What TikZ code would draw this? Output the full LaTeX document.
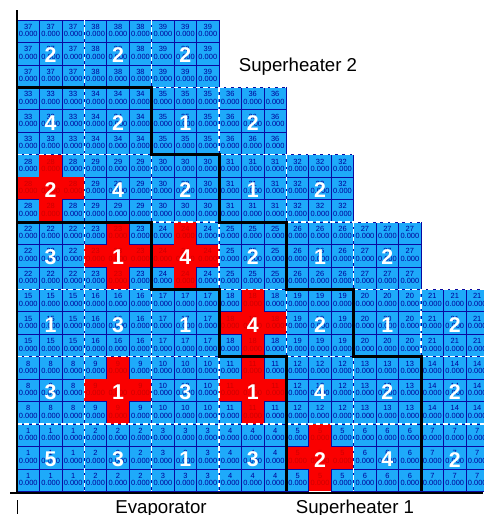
\documentclass[tikz,border=0pt]{standalone}
\usepackage{fontspec}
\setmainfont{Liberation Sans}
\definecolor{cellblue}{RGB}{30,170,250}
\definecolor{celledge}{RGB}{10,10,160}
\definecolor{celltext}{RGB}{0,0,150}
\definecolor{crossred}{RGB}{250,0,0}
\definecolor{crosstext}{RGB}{205,0,0}
\tikzset{
  bluecell/.style={fill=cellblue, draw=celledge, line width=0.6pt},
  redcell/.style={fill=crossred},
  smalltxt/.style={inner sep=0pt, font=\fontsize{5.6}{6}\selectfont},
  bignum/.style={inner sep=0pt, text=white, font=\fontsize{16}{17}\selectfont\bfseries},
  blockline/.style={white, line width=1.1pt, dash pattern=on 3.5pt off 2pt},
  zoneline/.style={black, line width=2.3pt},
  axisline/.style={black, line width=2.2pt},
  zonelabel/.style={inner sep=0pt, anchor=base, font=\fontsize{14}{15}\selectfont},
}
% row/col/tube/number/red cross
\def\blocklist{0/0/37/2/0, 0/1/38/2/0, 0/2/39/2/0,
  1/0/33/4/0, 1/1/34/2/0, 1/2/35/1/0, 1/3/36/2/0,
  2/0/28/2/1, 2/1/29/4/0, 2/2/30/2/0, 2/3/31/1/0, 2/4/32/2/0,
  3/0/22/3/0, 3/1/23/1/1, 3/2/24/4/1, 3/3/25/2/0, 3/4/26/1/0, 3/5/27/2/0,
  4/0/15/1/0, 4/1/16/3/0, 4/2/17/1/0, 4/3/18/4/1, 4/4/19/2/0, 4/5/20/1/0, 4/6/21/2/0,
  5/0/8/3/0, 5/1/9/1/1, 5/2/10/3/0, 5/3/11/1/1, 5/4/12/4/0, 5/5/13/2/0, 5/6/14/2/0,
  6/0/1/5/0, 6/1/2/3/0, 6/2/3/1/0, 6/3/4/3/0, 6/4/5/2/1, 6/5/6/4/0, 6/6/7/2/0}

\begin{document}
\begin{tikzpicture}[x=0.75pt, y=-0.75pt]
	\useasboundingbox (0,0) rectangle (483,515);
	\begin{scope}[shift={(17,20)}, x=16.8375pt, y=-16.8375pt]
		% Cells
		\foreach \r/\c/\n/\b/\x in \blocklist {
			\foreach \i in {0,1,2} {
				\foreach \j in {0,1,2} {
					\pgfmathtruncatemacro\isred{\x*((\i==1)||(\j==1))}
					\ifnum\isred=1 \def\cellstyle{redcell}\def\txtcolor{crosstext}%
					\else \def\cellstyle{bluecell}\def\txtcolor{celltext}\fi
					\path[\cellstyle] (3*\c+\i, 3*\r+\j) rectangle ++(1,1);
					\node[smalltxt, text=\txtcolor] (t\n-\i-\j) at (3*\c+\i+0.5, 3*\r+\j+0.3) {\n};
					\node[smalltxt, text=\txtcolor] (v\n-\i-\j) at (3*\c+\i+0.5, 3*\r+\j+0.63) {0.000};
				}
			}
		}
		% Block borders and numbers
		\foreach \r/\c/\n/\b/\x in \blocklist {
			\ifnum\c>0 \draw[blockline] (3*\c, 3*\r) -- ++(0,3); \fi
			\ifnum\r>0 \draw[blockline] (3*\c, 3*\r) -- ++(3,0); \fi
			\node[bignum] (big\n) at (3*\c+1.5, 3*\r+1.58) {\b};
		}
		% Zone boundaries
		\draw[zoneline] (0,3) -| (6,6) -| (9,9) -| (12,12) -| (15,15) -| (18,21);
		\draw[zoneline] (0,9) -| (6,12) -| (9,15) -| (12,21);
	\end{scope}
	% Axes
	\draw[axisline] (17,10) -- (17,494);
	\draw[axisline] (10,493) -- (483,493);
	\draw[black, line width=0.7pt] (17,500) -- (17,514);
	% Labels
	\node[zonelabel] (evap) at (161,513) {Evaporator};
	\node[zonelabel] (sh1) at (355,513) {Superheater 1};
	\node[zonelabel] (sh2) at (298,71) {Superheater 2};
\end{tikzpicture}
\end{document}
